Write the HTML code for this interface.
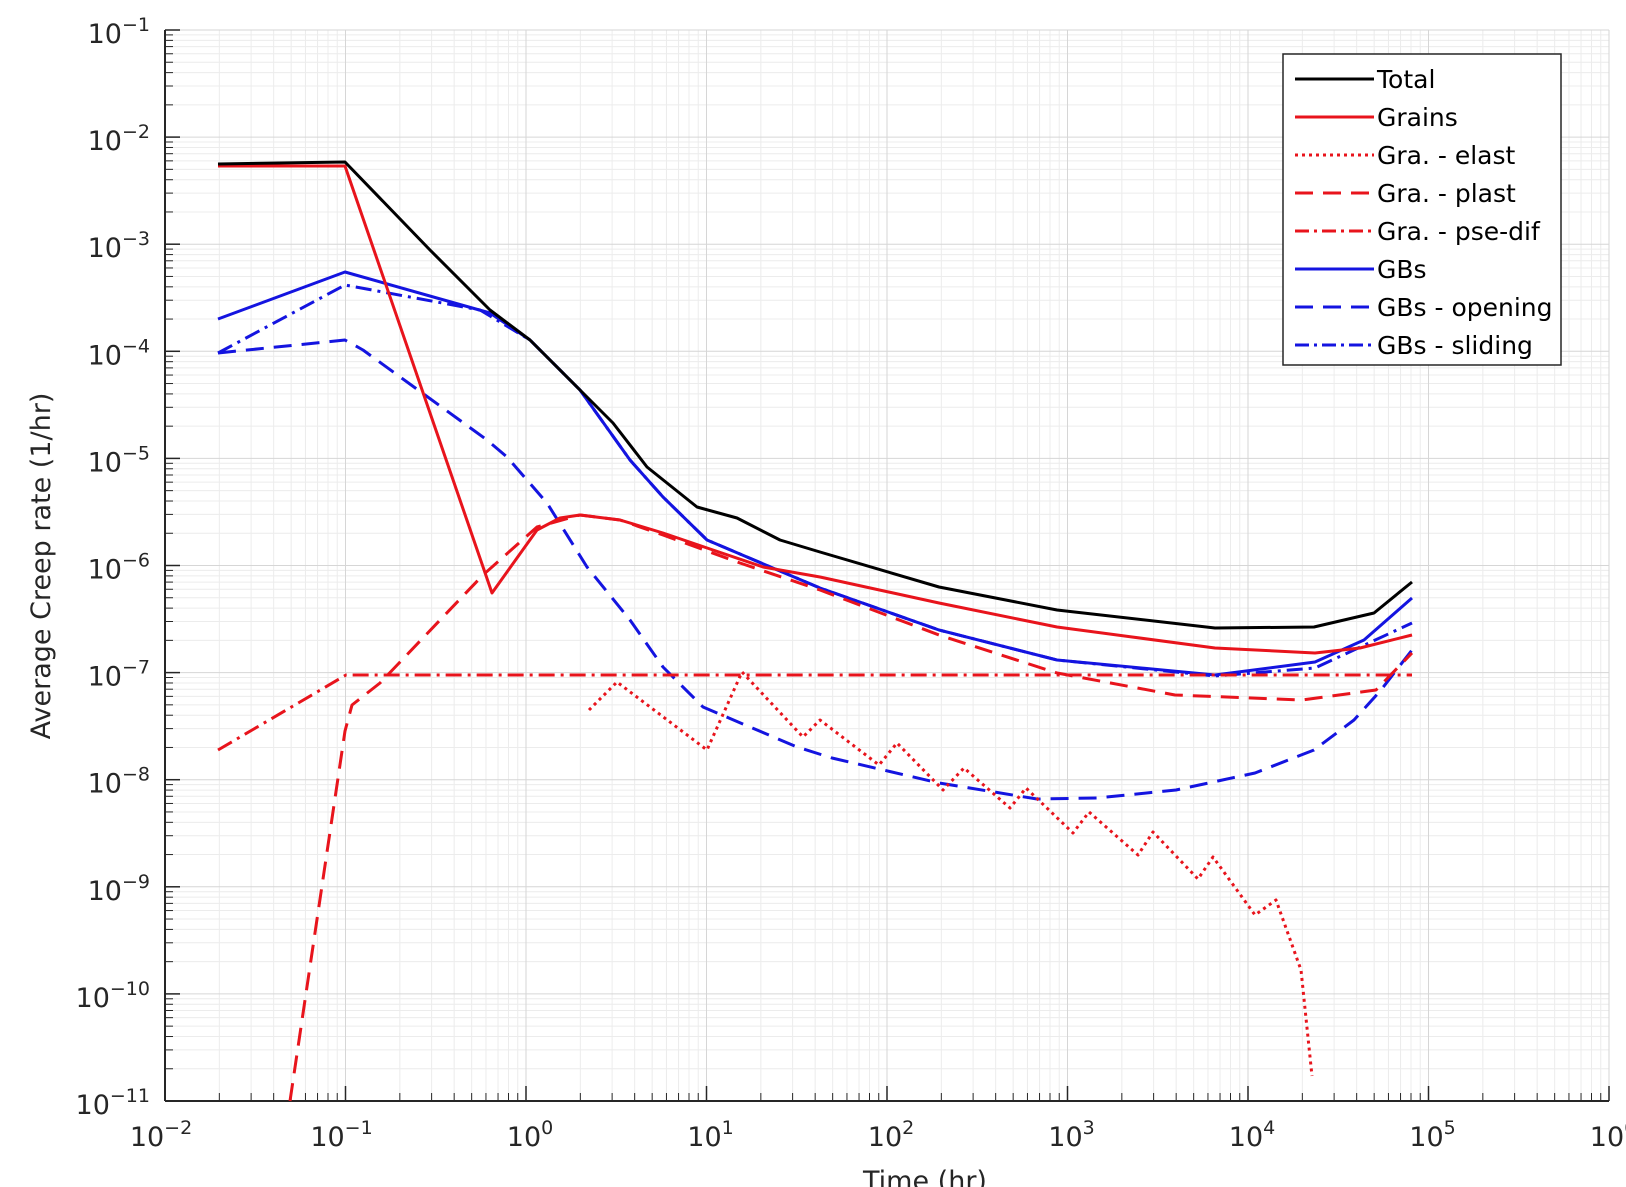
<!DOCTYPE html>
<html><head><meta charset="utf-8"><style>
html,body{margin:0;padding:0;background:#fff;}
svg{display:block;font-family:"DejaVu Sans","Liberation Sans",sans-serif;}
</style></head><body>
<svg id="s" width="1626" height="1187" viewBox="0 0 1626 1187" xmlns="http://www.w3.org/2000/svg"></svg>
<script>
const S=document.getElementById('s');
const NS='http://www.w3.org/2000/svg';
function el(t,a,txt){const e=document.createElementNS(NS,t);for(const k in a)e.setAttribute(k,a[k]);if(txt!==undefined)e.textContent=txt;S.appendChild(e);return e;}
const L=165,R=1609,T=30,B=1101;
const dx=(R-L)/8, dy=(B-T)/10;
const X=v=>L+(v+2)*dx, Y=v=>T+(-1-v)*dy;
for(let d=-2;d<6;d++){for(let m=2;m<10;m++){const x=X(d+Math.log10(m));el('line',{x1:x,y1:T,x2:x,y2:B,stroke:'#ececec','stroke-width':1});}}
for(let d=-11;d<-1;d++){for(let m=2;m<10;m++){const y=Y(d+Math.log10(m));el('line',{x1:L,y1:y,x2:R,y2:y,stroke:'#ececec','stroke-width':1});}}
for(let d=-2;d<=6;d++){const x=X(d);el('line',{x1:x,y1:T,x2:x,y2:B,stroke:'#d6d6d6','stroke-width':1});}
for(let d=-11;d<=-1;d++){const y=Y(d);el('line',{x1:L,y1:y,x2:R,y2:y,stroke:'#d6d6d6','stroke-width':1});}
el('line',{x1:L,y1:T,x2:L,y2:B,stroke:'#262626','stroke-width':2});
el('line',{x1:L,y1:B,x2:R,y2:B,stroke:'#262626','stroke-width':2});
for(let d=-2;d<=6;d++){const x=X(d);el('line',{x1:x,y1:B,x2:x,y2:B-15,stroke:'#262626','stroke-width':1.5});
 if(d<6)for(let m=2;m<10;m++){const xx=X(d+Math.log10(m));el('line',{x1:xx,y1:B,x2:xx,y2:B-8,stroke:'#262626','stroke-width':1});}}
for(let d=-11;d<=-1;d++){const y=Y(d);el('line',{x1:L,y1:y,x2:L+15,y2:y,stroke:'#262626','stroke-width':1.5});
 if(d<-1)for(let m=2;m<10;m++){const yy=Y(d+Math.log10(m));el('line',{x1:L,y1:yy,x2:L+8,y2:yy,stroke:'#262626','stroke-width':1});}}
function lab(x,y,e,anchor){const t=el('text',{x:x,y:y,'font-size':27,fill:'#262626','text-anchor':anchor});
 const a=document.createElementNS(NS,'tspan');a.textContent='10';t.appendChild(a);
 const b=document.createElementNS(NS,'tspan');b.setAttribute('dy','-12');b.setAttribute('font-size','19');b.textContent=e;t.appendChild(b);}
for(let d=-11;d<=-1;d++){lab(150,Y(d)+13,'\u2212'+(-d),'end');}
for(let d=-2;d<=6;d++){const t=d<0?'\u2212'+(-d):''+d;lab(X(d)+(d<0?-4:4),1146,t,'middle');}
el('text',{x:925,y:1190,'font-size':27,fill:'#262626','text-anchor':'middle'},'Time (hr)');
el('text',{x:50,y:566,'font-size':27,fill:'#262626','text-anchor':'middle',transform:'rotate(-90 50 566)'},'Average Creep rate (1/hr)');
function ser(pts,col,dash){el('polyline',{points:pts.map(p=>p[0]+','+p[1]).join(' '),fill:'none',stroke:col,'stroke-width':3,'stroke-dasharray':dash||'none','stroke-linejoin':'round'});}
const RED='#e8141c',BLUE='#1414e0';
ser([[218,353],[345,340],[363,350],[487,440],[507,457],[547,503],[587,567],[630,620],[663,667],[703,707],[797,747],[832,758],[939,783],[1037,799],[1097,798],[1176,790],[1255,773],[1314,750],[1354,720],[1381,690],[1412,650]],BLUE,'18,10');
ser([[218,353],[345,285],[480,310],[530,340],[580,390],[630,460],[663,497],[707,540],[747,557],[820,588],[939,630],[1057,660],[1215,676],[1315,668],[1412,623]],BLUE,'16,6,3,6');
ser([[218,319],[345,272],[490,313],[530,340],[580,390],[630,460],[663,497],[707,540],[747,557],[820,588],[939,630],[1057,660],[1215,675],[1315,662],[1364,640],[1412,598]],BLUE);
ser([[218,750],[346,675],[1412,675]],RED,'16,6,3,6');
ser([[290,1101],[345,731],[352,705],[380,683],[483,575],[537,527],[580,515],[620,520],[663,535],[740,563],[820,590],[939,635],[1057,673],[1175,695],[1302,700],[1376,690],[1412,653]],RED,'18,10');
ser([[589,710],[617,682],[707,750],[742,672],[803,737],[820,720],[879,765],[897,743],[943,790],[964,768],[1010,808],[1026,788],[1073,833],[1089,812],[1138,855],[1153,832],[1198,879],[1213,857],[1255,915],[1276,900],[1301,970],[1312,1076]],RED,'3,4');
ser([[218,166],[345,166],[492,593],[537,530],[560,518],[580,515],[620,520],[663,533],[713,550],[763,567],[820,577],[939,603],[1057,627],[1215,648],[1315,653],[1360,648],[1412,635]],RED);
ser([[218,164],[345,162],[430,250],[490,310],[530,340],[580,390],[613,423],[647,467],[697,507],[737,518],[780,540],[820,552],[939,587],[1057,610],[1215,628],[1314,627],[1374,613],[1412,582]],'#000');
el('rect',{x:1283,y:54,width:278,height:311,fill:'#fff',stroke:'#262626','stroke-width':1.5});
const items=[['Total','#000','none'],['Grains',RED,'none'],['Gra. - elast',RED,'3,4'],['Gra. - plast',RED,'18,10'],['Gra. - pse-dif',RED,'14,5,3,5'],['GBs',BLUE,'none'],['GBs - opening',BLUE,'18,10'],['GBs - sliding',BLUE,'14,5,3,5']];
items.forEach((it,i)=>{const y=79+i*38;el('line',{x1:1295,y1:y,x2:1374,y2:y,stroke:it[1],'stroke-width':3,'stroke-dasharray':it[2]});
 el('text',{x:1377,y:y+9,'font-size':25,fill:'#000'},it[0]);});
</script>
</body></html>
